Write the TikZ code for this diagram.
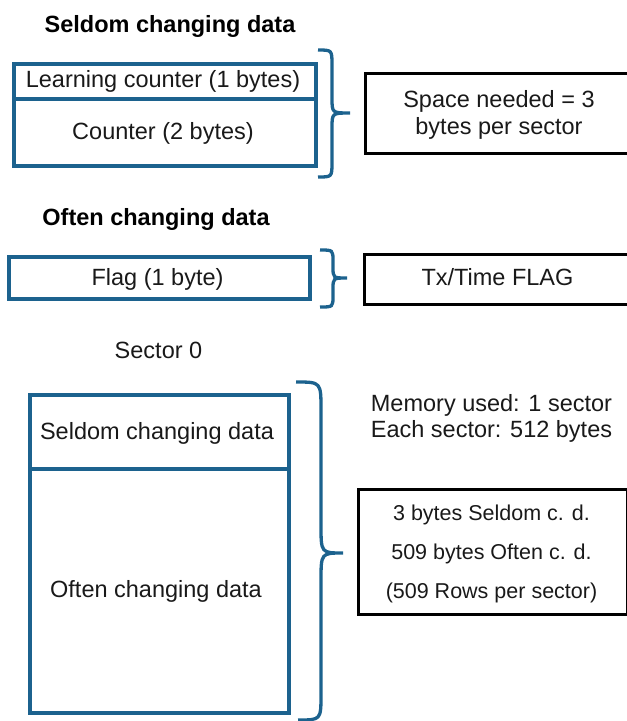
\documentclass[tikz,border=0pt]{standalone}
\usepackage{fontspec}
\setmainfont{Liberation Sans}
\definecolor{bl}{RGB}{28,98,142}
\definecolor{txt}{RGB}{25,25,25}
\begin{document}
\begin{tikzpicture}[x=1pt,y=-1pt,
 bbox/.style={draw=bl, line width=3.5pt, anchor=north west, inner sep=0pt},
 kbox/.style={draw=black, line width=3.4pt, anchor=north west, inner sep=0pt},
 lbl/.style={anchor=base, inner sep=0pt, text=txt, font=\fontsize{23.5}{28}\selectfont},
 ttl/.style={anchor=base, inner sep=0pt, text=black, font=\fontsize{23.5}{28}\selectfont\bfseries},
 sml/.style={anchor=base, inner sep=0pt, text=txt, font=\fontsize{21.5}{26}\selectfont},
 brc/.style={draw=bl, line width=3.3pt}]
\useasboundingbox (0,0) rectangle (627,721);
% seldom changing data
\node[ttl] (t1) at (170,32) {Seldom changing data};
\node[bbox, minimum width=302pt, minimum height=35pt] (learn) at (12,62) {};
\node[bbox, minimum width=302pt, minimum height=67pt] (cnt) at (12,97) {};
\node[lbl] (l1) at (163,87) {Learning counter (1 bytes)};
\node[lbl] (l2) at (163,139) {Counter (2 bytes)};
\draw[brc] (318,50) .. controls (332,50) .. (332,65) -- (332,98) .. controls (332,113) .. (350,113) .. controls (332,113) .. (332,128) -- (332,162) .. controls (332,177) .. (318,177);
\node[kbox, minimum width=270pt, minimum height=80pt] (space) at (364,72) {};
\node[lbl] (s1) at (499,107) {Space needed = 3};
\node[lbl] (s2) at (499,134) {bytes per sector};
% often changing data
\node[ttl] (t2) at (156,225) {Often changing data};
\node[bbox, minimum width=301pt, minimum height=42pt] (flag) at (7,255) {};
\node[lbl] (f1) at (157.5,285) {Flag (1 byte)};
\draw[brc] (320,250) .. controls (333,250) .. (333,261) -- (333,267) .. controls (333,278) .. (347,278) .. controls (333,278) .. (333,289) -- (333,296) .. controls (333,307) .. (320,307);
\node[kbox, minimum width=269pt, minimum height=50pt] (tx) at (363,253) {};
\node[lbl] (f2) at (497.5,285) {Tx/Time FLAG};
% sector 0
\node[lbl] (sec) at (158.5,358) {Sector 0};
\node[bbox, minimum width=259pt, minimum height=74pt] (sseld) at (28,393) {};
\node[bbox, minimum width=259pt, minimum height=244pt] (soft) at (28,467) {};
\node[lbl] (x1) at (157,439) {Seldom changing data};
\node[lbl] (x2) at (156,597) {Often changing data};
\draw[brc] (296,382) .. controls (321,382) .. (321,410) -- (321,525) .. controls (321,553) .. (343,553) .. controls (321,553) .. (321,581) -- (321,694) .. controls (321,720) .. (298,720);
\node[lbl] (m1) at (491.5,411) {Memory used: 1 sector};
\node[lbl] (m2) at (491.5,437) {Each sector: 512 bytes};
\node[kbox, minimum width=269pt, minimum height=125pt] (res) at (357,488) {};
\node[sml] (r1) at (491.5,520) {3 bytes Seldom c. d.};
\node[sml] (r2) at (491.5,559) {509 bytes Often c. d.};
\node[sml] (r3) at (491.5,598) {(509 Rows per sector)};
\end{tikzpicture}
\end{document}
